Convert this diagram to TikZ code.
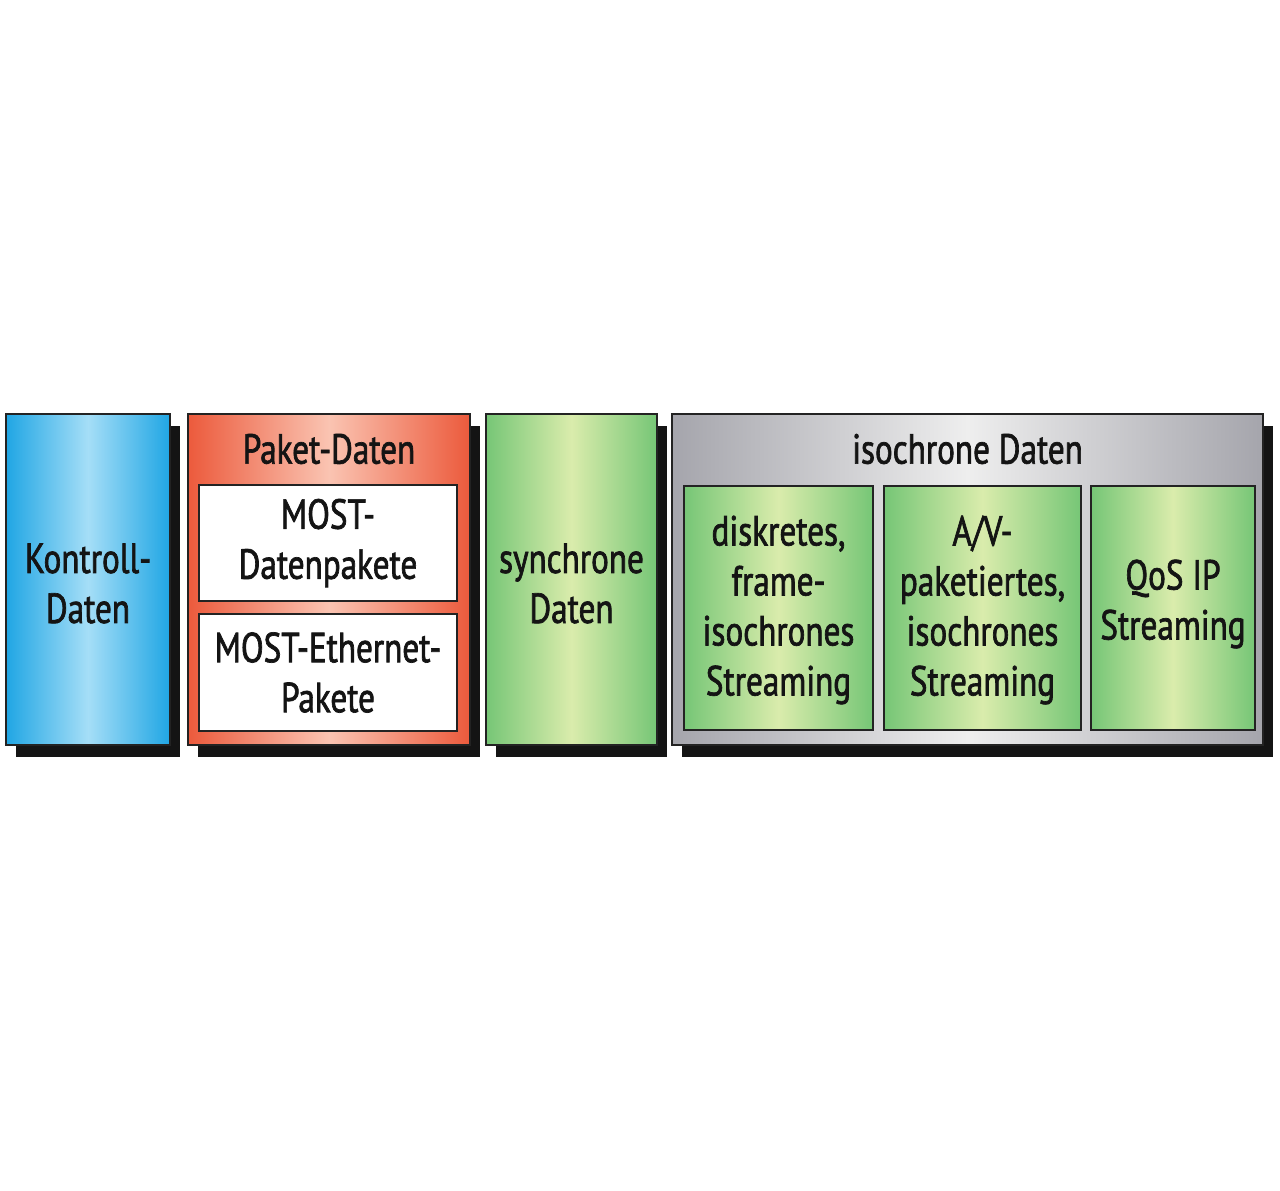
\documentclass[tikz,border=0pt]{standalone}
\usepackage{fontspec}
\setmainfont{PT Sans}[FakeStretch=0.79, FakeBold=1.6]
\usetikzlibrary{fit,shadows}

\definecolor{kontrollblue}{RGB}{32,166,228}
\definecolor{kontrolllight}{RGB}{165,222,247}
\definecolor{paketred}{RGB}{236,90,60}
\definecolor{paketlight}{RGB}{250,196,178}
\definecolor{syncgreen}{RGB}{118,198,118}
\definecolor{synclight}{RGB}{218,236,172}
\definecolor{isogray}{RGB}{165,165,172}
\definecolor{isolight}{RGB}{238,238,238}
\definecolor{linedark}{RGB}{35,35,35}

\tikzset{
  databox/.style={draw=linedark, line width=1pt, inner sep=0pt,
    drop shadow={shadow xshift=5pt, shadow yshift=-6pt, fill=black!92, opacity=1}},
  fillshade/.style 2 args={left color=#1, right color=#1, middle color=#2},
  innerbox/.style={draw=linedark, line width=1pt, inner sep=0pt},
  lbl/.style={align=center, inner sep=0pt, text=black!92,
    font=\fontsize{21}{25}\selectfont}
}

\begin{document}
\begin{tikzpicture}[x=0.5pt,y=-0.5pt]
  \useasboundingbox[fill=white] (0,0) rectangle (1280,1190);
  % outer boxes
  \node[databox, fillshade={kontrollblue}{kontrolllight}, fit={(6,414) (170,745)}] (kontroll) {};
  \node[databox, fillshade={paketred}{paketlight}, fit={(188,414) (470,745)}] (paket) {};
  \node[databox, fillshade={syncgreen}{synclight}, fit={(486,414) (657,745)}] (synchron) {};
  \node[databox, fillshade={isogray}{isolight}, fit={(672,414) (1263,745)}] (isochron) {};
  % inner boxes
  \node[innerbox, fill=white, fit={(199,485) (457,601)}] (mostdp) {};
  \node[innerbox, fill=white, fit={(199,614) (457,731)}] (mosteth) {};
  \node[innerbox, fillshade={syncgreen}{synclight}, fit={(684,486) (873,730)}] (diskret) {};
  \node[innerbox, fillshade={syncgreen}{synclight}, fit={(884,486) (1081,730)}] (avpaket) {};
  \node[innerbox, fillshade={syncgreen}{synclight}, fit={(1091,486) (1255,730)}] (qosip) {};
  % labels
  \node[lbl] at ([yshift=-2pt]kontroll.center) {Kontroll-\\Daten};
  \node[lbl] at ([yshift=-18pt]paket.north) {Paket-Daten};
  \node[lbl] at (mostdp.center) {MOST-\\Datenpakete};
  \node[lbl] at (mosteth.center) {MOST-Ethernet-\\Pakete};
  \node[lbl] at ([yshift=-2pt]synchron.center) {synchrone\\Daten};
  \node[lbl] at ([yshift=-18pt]isochron.north) {isochrone Daten};
  \node[lbl] at ([yshift=-1pt]diskret.center) {diskretes,\\frame-\\isochrones\\Streaming};
  \node[lbl] at ([yshift=-1pt]avpaket.center) {A/V-\\paketiertes,\\isochrones\\Streaming};
  \node[lbl] at ([yshift=2pt]qosip.center) {QoS IP\\Streaming};
\end{tikzpicture}
\end{document}
